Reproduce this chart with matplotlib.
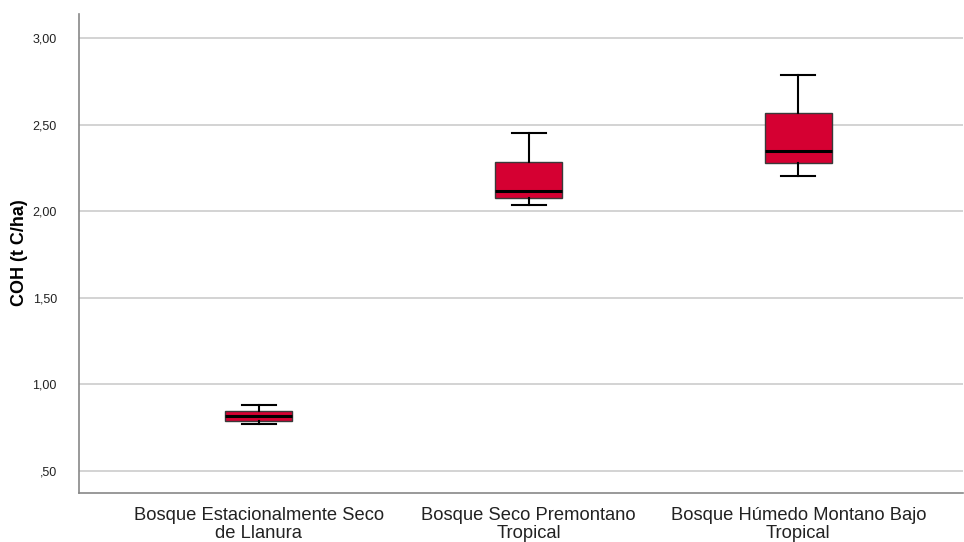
import matplotlib
matplotlib.use("Agg")
import matplotlib.pyplot as plt

categories = ["Bosque Estacionalmente Seco\nde Llanura",
              "Bosque Seco Premontano\nTropical",
              "Bosque Húmedo Montano Bajo\nTropical"]
whisker_low = [0.771, 2.036, 2.205]
q1 = [0.789, 2.078, 2.277]
median = [0.818, 2.117, 2.349]
q3 = [0.846, 2.286, 2.569]
whisker_high = [0.881, 2.453, 2.786]

yticks = [0.5, 1.0, 1.5, 2.0, 2.5, 3.0]
ytick_labels = [",50", "1,00", "1,50", "2,00", "2,50", "3,00"]

plt.rcParams["font.family"] = ["Liberation Sans", "DejaVu Sans"]

fig = plt.figure(figsize=(9.64, 5.42), dpi=100)
ax = fig.add_axes([0.082, 0.0904, 0.917, 0.8836])

stats = []
for i in range(len(categories)):
    stats.append(dict(med=median[i], q1=q1[i], q3=q3[i],
                      whislo=whisker_low[i], whishi=whisker_high[i],
                      fliers=[], label=categories[i]))

ax.bxp(stats, positions=[1, 2, 3], widths=0.25, patch_artist=True,
       showfliers=False,
       boxprops=dict(facecolor="#D50032", edgecolor="#3a3a3a", linewidth=1.0),
       medianprops=dict(color="black", linewidth=2.2),
       whiskerprops=dict(color="black", linewidth=1.5),
       capprops=dict(color="black", linewidth=1.5),
       capwidths=0.126, zorder=3)

ax.set_xlim(0.334, 3.61)
ax.set_ylim(0.373, 3.139)
ax.set_yticks(yticks)
ax.set_yticklabels(ytick_labels, fontsize=9)
ax.set_xticks([1, 2, 3])
ax.set_xticklabels(categories, fontsize=13.2, linespacing=1.05)
ax.tick_params(axis="both", length=0, colors="#222222")
ax.tick_params(axis="y", pad=16)
ax.tick_params(axis="x", pad=10)
ax.yaxis.grid(True, color="#cccccc", linewidth=1.2, zorder=0)
ax.set_axisbelow(True)

for side in ["top", "right"]:
    ax.spines[side].set_visible(False)
for side in ["left", "bottom"]:
    ax.spines[side].set_color("#888888")
    ax.spines[side].set_linewidth(1.2)

fig.text(20 / 964, 1 - 253 / 542, "COH (t C/ha)", fontsize=13,
         fontweight="bold", rotation=90, ha="center", va="center")

fig.savefig("out.png", dpi=100)
